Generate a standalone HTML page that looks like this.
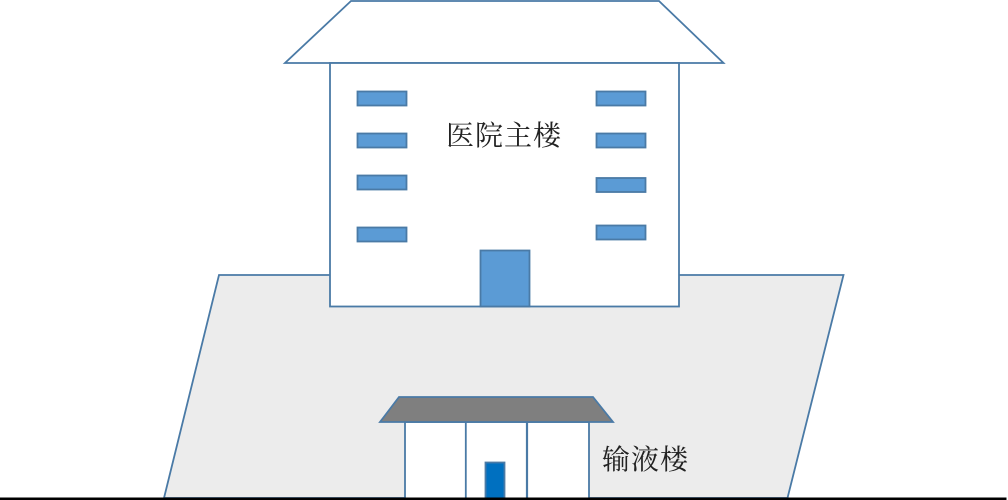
<!DOCTYPE html>
<html>
<head>
<meta charset="utf-8">
<style>
html,body{margin:0;padding:0;background:#fff;width:1008px;height:500px;overflow:hidden}
svg{display:block}
text{font-family:"Liberation Serif","Noto Serif CJK SC",serif;fill:#222}
</style>
</head>
<body>
<svg width="1008" height="500" viewBox="0 0 1008 500" xmlns="http://www.w3.org/2000/svg">
<g stroke="#4a7aa6" stroke-width="1.8">
<polygon points="219,275 843.500,275 787.500,498 164,498" fill="#ececec"/>
<polygon points="351,1 659,1 723.500,63 285,63" fill="#fff"/>
<rect x="330" y="63" width="349" height="243.500" fill="#fff"/>
<g fill="#5b9bd5">
<rect x="357.500" y="91.500" width="49" height="14"/>
<rect x="357.500" y="133.500" width="49" height="14"/>
<rect x="357.500" y="175.500" width="49" height="14"/>
<rect x="357.500" y="227.500" width="49" height="14"/>
<rect x="596.500" y="91.500" width="49" height="14"/>
<rect x="596.500" y="133.500" width="49" height="14"/>
<rect x="596.500" y="178" width="49" height="14"/>
<rect x="596.500" y="225.500" width="49" height="14"/>
<rect x="480.500" y="250.500" width="49" height="56"/>
</g>
<rect x="405" y="422" width="184" height="77" fill="#fff"/>
<line x1="465.800" y1="422" x2="465.800" y2="498"/>
<line x1="527" y1="422" x2="527" y2="498" stroke-width="2.200"/>
<polygon points="399,397 593,397 613,422 380,422" fill="#7f7f7f"/>
<rect x="485.500" y="462.500" width="19" height="36" fill="#0070c0"/>
</g>
<rect x="0" y="497.500" width="1006.500" height="2.500" fill="#000"/>
<text x="446" y="145" font-size="28" textLength="115">医院主楼</text>
<text x="602" y="469" font-size="28" textLength="86">输液楼</text>
</svg>
</body>
</html>
